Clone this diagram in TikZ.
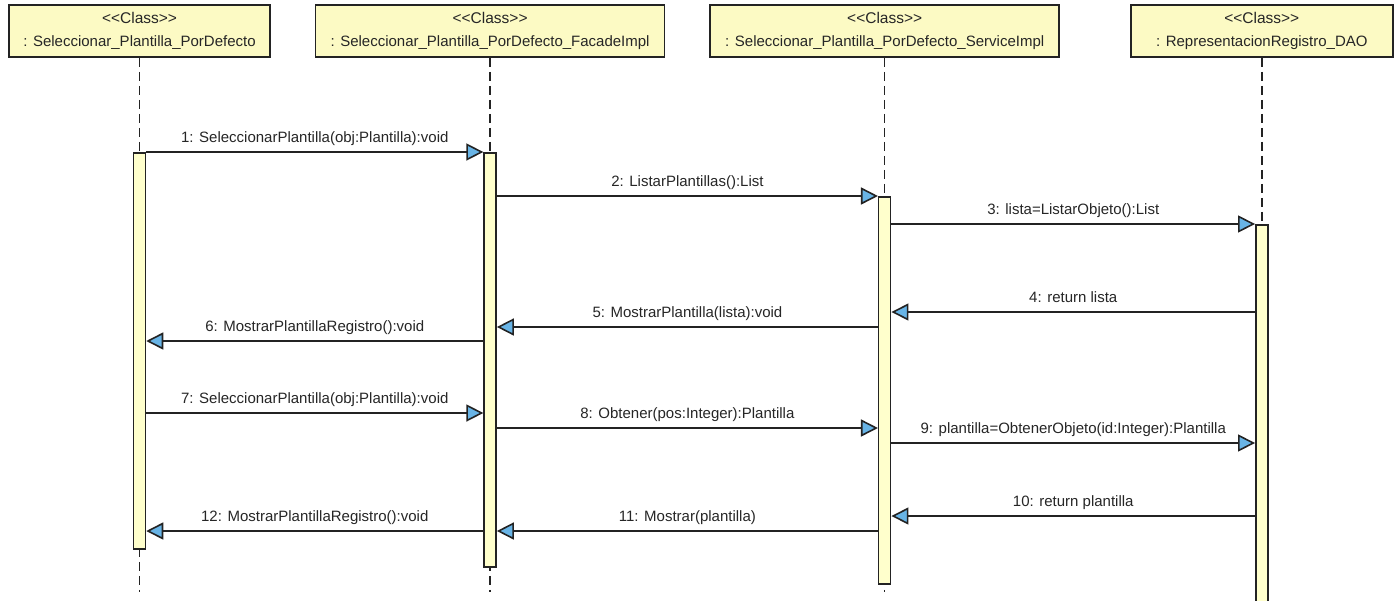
\documentclass[tikz,border=0pt]{standalone}
\usepackage{fontspec}
\setmainfont{Liberation Sans}[Ligatures=TeXOff]
\usepackage{xcolor}
\definecolor{ClassColor}{RGB}{252,250,196}
\definecolor{ActColor}{RGB}{255,255,204}
\definecolor{TipColor}{RGB}{104,180,230}
\definecolor{LineColor}{RGB}{35,35,35}
\usetikzlibrary{positioning, arrows.meta}

% stereotype text, kept apart so no guillemets are formed
\newcommand{\umlstereo}[1]{{\fontsize{15.5}{17}\selectfont <\kern0pt<#1>\kern0pt>}}

\begin{document}
\begin{tikzpicture}[
    x=1pt, y=-1pt,
    font=\fontsize{15}{17}\selectfont,
    classbox/.style={rectangle, draw=LineColor, line width=1.6pt, fill=ClassColor, minimum height=52pt, align=center, inner sep=0pt, text=black!85},
    activation/.style={rectangle, draw=LineColor, line width=1.5pt, fill=ActColor, minimum width=12pt, inner sep=0pt, anchor=north},
    lifeline/.style={draw=LineColor, line width=1.5pt, dash pattern=on 9pt off 5pt},
    msg/.style={draw=LineColor, line width=1.6pt, -{Triangle[length=17pt, width=17pt, fill=TipColor]}},
    msglabel/.style={anchor=base, yshift=10pt, inner sep=0pt, text=black!85},
]

\path[use as bounding box, fill=white] (0,0) rectangle (1397,600);

% ============================================
% MESSAGE LEVELS
% ============================================
\coordinate (m1) at (0,152);
\coordinate (m2) at (0,196);
\coordinate (m3) at (0,224);
\coordinate (m4) at (0,312);
\coordinate (m5) at (0,327);
\coordinate (m6) at (0,341);
\coordinate (m7) at (0,413);
\coordinate (m8) at (0,428);
\coordinate (m9) at (0,443);
\coordinate (m10) at (0,516);
\coordinate (m11) at (0,531);
\coordinate (bottom) at (0,592);

% ============================================
% CLASS HEADERS
% ============================================
\node[classbox, minimum width=261pt] (pordefecto) at (139.5,31) {
    \umlstereo{Class}\\[6pt]
    : Seleccionar\_Plantilla\_PorDefecto
};

\node[classbox, minimum width=349pt, right=44pt of pordefecto] (facade) {
    \umlstereo{Class}\\[6pt]
    : Seleccionar\_Plantilla\_PorDefecto\_FacadeImpl
};

\node[classbox, minimum width=349pt, right=44pt of facade] (service) {
    \umlstereo{Class}\\[6pt]
    : Seleccionar\_Plantilla\_PorDefecto\_ServiceImpl
};

\node[classbox, minimum width=262pt, right=70pt of service] (dao) {
    \umlstereo{Class}\\[6pt]
    : RepresentacionRegistro\_DAO
};

% ============================================
% LIFELINES
% ============================================
\draw[lifeline] (pordefecto.south) -- (pordefecto.south |- bottom);
\draw[lifeline] (facade.south) -- (facade.south |- bottom);
\draw[lifeline] (service.south) -- (service.south |- bottom);
\draw[lifeline] (dao.south) -- (dao.south |- bottom);

% ============================================
% ACTIVATION BARS
% ============================================
\node[activation, minimum height=396pt] (act1) at (pordefecto.south |- m1) {};
\node[activation, minimum height=414pt] (act2) at (facade.south |- m1) {};
\node[activation, minimum height=387pt] (act3) at (service.south |- m2) {};
\node[activation, minimum height=400pt] (act4) at (dao.south |- m3) {};

% ============================================
% MESSAGES - first selection
% ============================================
\draw[msg] (act1.east |- m1) -- (act2.west |- m1)
    node[midway, msglabel] {1: SeleccionarPlantilla(obj:Plantilla):void};
\draw[msg] (act2.east |- m2) -- (act3.west |- m2)
    node[midway, msglabel] {2: ListarPlantillas():List};
\draw[msg] (act3.east |- m3) -- (act4.west |- m3)
    node[midway, msglabel] {3: lista=ListarObjeto():List};
\draw[msg] (act4.west |- m4) -- (act3.east |- m4)
    node[midway, msglabel] {4: return lista};
\draw[msg] (act3.west |- m5) -- (act2.east |- m5)
    node[midway, msglabel] {5: MostrarPlantilla(lista):void};
\draw[msg] (act2.west |- m6) -- (act1.east |- m6)
    node[midway, msglabel] {6: MostrarPlantillaRegistro():void};

% ============================================
% MESSAGES - second selection
% ============================================
\draw[msg] (act1.east |- m7) -- (act2.west |- m7)
    node[midway, msglabel] {7: SeleccionarPlantilla(obj:Plantilla):void};
\draw[msg] (act2.east |- m8) -- (act3.west |- m8)
    node[midway, msglabel] {8: Obtener(pos:Integer):Plantilla};
\draw[msg] (act3.east |- m9) -- (act4.west |- m9)
    node[midway, msglabel] {9: plantilla=ObtenerObjeto(id:Integer):Plantilla};
\draw[msg] (act4.west |- m10) -- (act3.east |- m10)
    node[midway, msglabel] {10: return plantilla};
\draw[msg] (act3.west |- m11) -- (act2.east |- m11)
    node[midway, msglabel] {11: Mostrar(plantilla)};
\draw[msg] (act2.west |- m11) -- (act1.east |- m11)
    node[midway, msglabel] {12: MostrarPlantillaRegistro():void};

\end{tikzpicture}
\end{document}
